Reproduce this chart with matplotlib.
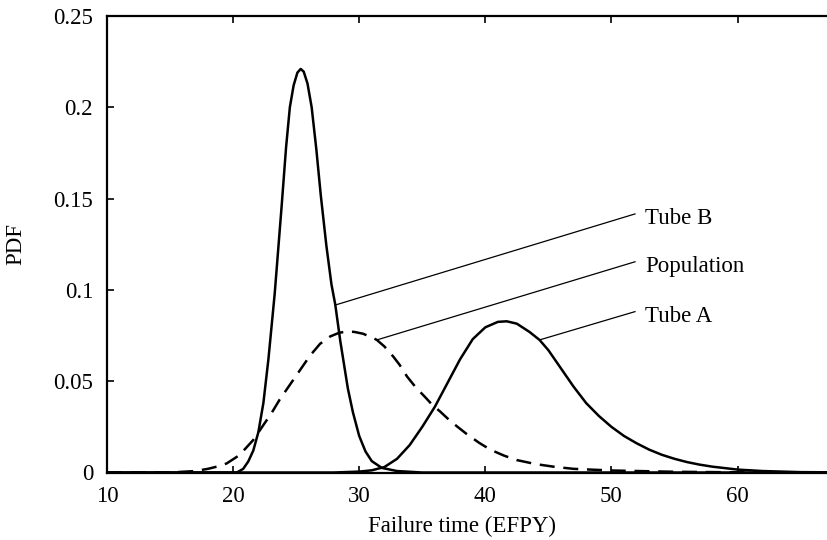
import matplotlib
matplotlib.use("Agg")
import matplotlib.pyplot as plt

plt.rcParams['font.family'] = ['Liberation Serif', 'DejaVu Serif']

# Tube B (sharp peak)
tube_b_x = [10, 18, 20.3, 20.8, 21.2, 21.6, 22.0, 22.4, 22.8, 23.3, 23.85, 24.2, 24.5, 24.8, 25.1,
            25.36, 25.6, 25.9, 26.23, 26.6, 26.95, 27.4, 27.8, 28.1, 28.5, 29.1, 29.5, 30.0, 30.5,
            31.0, 31.8, 33.0, 35.0, 70]
tube_b_y = [0, 0, 0, 0.002, 0.006, 0.012, 0.022, 0.038, 0.062, 0.098, 0.146, 0.178, 0.200, 0.212, 0.219,
            0.221, 0.2195, 0.213, 0.200, 0.177, 0.152, 0.124, 0.103, 0.092, 0.072, 0.046, 0.033, 0.020, 0.0115,
            0.0062, 0.0025, 0.0008, 0, 0]

# Population (dashed)
pop_x = [10, 15, 17, 18, 19, 19.5, 20.5, 21.6, 22.5, 23.0, 23.7, 24.5, 25.3, 26.1, 26.9, 27.7, 28.4,
         29.0, 29.6, 30.3, 31.0, 31.4, 32.0, 32.7, 33.2, 33.8, 34.5, 35.2, 35.8, 36.4, 37.1, 37.8,
         38.5, 39.5, 40.4, 41.5, 42.5, 44.0, 45.5, 47.0, 50.0, 55.0, 60.0, 67.0, 70]
pop_y = [0, 0, 0.0008, 0.002, 0.0037, 0.005, 0.0095, 0.0178, 0.027, 0.032, 0.040, 0.048, 0.056, 0.064,
         0.0705, 0.0745, 0.0765, 0.0772, 0.0770, 0.0760, 0.0740, 0.0726, 0.069, 0.0635, 0.059, 0.0525,
         0.0465, 0.0415, 0.037, 0.0335, 0.0290, 0.025, 0.0212, 0.0163, 0.0125, 0.0092, 0.0068, 0.0046,
         0.0031, 0.002, 0.0011, 0.0004, 0.0001, 0, 0]

# Tube A
tube_a_x = [10, 28, 30, 31, 32, 33, 34, 35, 36, 37, 38, 39, 40, 41, 41.7, 42.5, 43.5, 44.3, 45, 46,
            47, 48, 49, 50, 51, 52, 53, 54, 55, 56, 57, 58, 60, 62, 65, 70]
tube_a_y = [0, 0, 0.0005, 0.0012, 0.003, 0.0075, 0.015, 0.025, 0.036, 0.049, 0.062, 0.073, 0.0795,
            0.0825, 0.0828, 0.0815, 0.077, 0.0726, 0.067, 0.057, 0.047, 0.038, 0.031, 0.025, 0.020,
            0.016, 0.0125, 0.0097, 0.0075, 0.0057, 0.0043, 0.0032, 0.0016, 0.0008, 0.0002, 0]

labels = ['Tube B', 'Population', 'Tube A']
# where each leader line touches its curve, and where it ends near the text
leader_start = [(28.1, 0.0917), (31.4, 0.0726), (44.3, 0.0726)]
leader_end = [(51.87, 0.1416), (51.87, 0.1154), (51.87, 0.0881)]

fig = plt.figure(figsize=(8.27, 5.40), dpi=100)
ax = fig.add_axes([0.12938, 0.125, 0.9149, 0.8454])

ax.plot(tube_b_x, tube_b_y, color='black', lw=1.8)
ax.plot(pop_x, pop_y, color='black', lw=1.8, linestyle=(0, (6, 3.5)))
ax.plot(tube_a_x, tube_a_y, color='black', lw=1.8)

for lab, (x0, y0), (x1, y1) in zip(labels, leader_start, leader_end):
    ax.plot([x0, x1], [y0, y1], color='black', lw=0.9)
    ax.text(x1 + 0.8, y1 - 0.0025, lab, fontsize=16.5, va='center', ha='left')

ax.set_xlim(10, 70)
ax.set_ylim(0, 0.25)
ax.set_xticks([10, 20, 30, 40, 50, 60])
ax.set_yticks([0, 0.05, 0.1, 0.15, 0.2, 0.25])
ax.set_yticklabels(['0', '0.05', '0.1', '0.15', '0.2', '0.25'])
ax.tick_params(direction='in', top=True, right=True, length=5, width=1.2,
               labelsize=16.5, pad=10)
for s in ax.spines.values():
    s.set_linewidth(1.6)

ax.set_xlabel('Failure time (EFPY)', fontsize=16.5)
ax.set_ylabel('PDF', fontsize=16.5)
ax.xaxis.set_label_coords(0.469, -0.095)
ax.yaxis.set_label_coords(-0.106, 0.5)

fig.savefig('out.png', dpi=100)
